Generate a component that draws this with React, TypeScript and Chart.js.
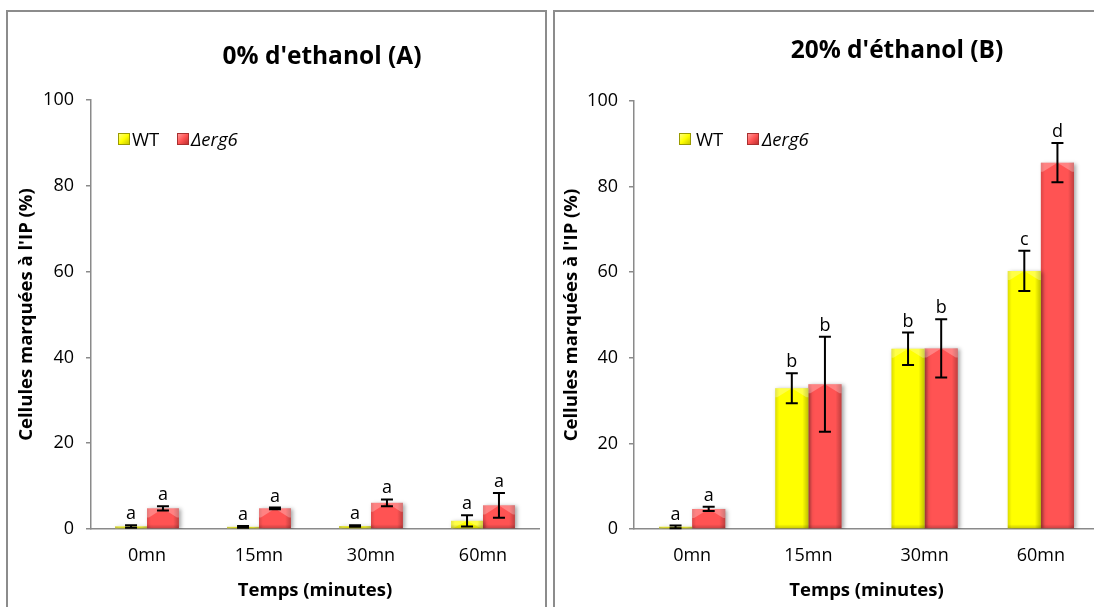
import React, { useEffect, useRef } from 'react';
import { Chart, registerables } from 'chart.js';

Chart.register(...registerables);

const categories = ['0mn', '15mn', '30mn', '60mn'];
const seriesNames = ['WT', 'Δerg6'];
const yTicks = [0, 20, 40, 60, 80, 100];

// Panel A : 0% d'ethanol
const wtA = [0.6, 0.5, 0.7, 1.9];
const wtErrA = [0.3, 0.2, 0.2, 1.3];
const ergA = [4.8, 4.8, 6.1, 5.5];
const ergErrA = [0.5, 0.2, 0.8, 2.9];
const wtLettersA = ['a', 'a', 'a', 'a'];
const ergLettersA = ['a', 'a', 'a', 'a'];

// Panel B : 20% d'éthanol
const wtB = [0.5, 32.9, 42.1, 60.3];
const wtErrB = [0.3, 3.5, 3.8, 4.7];
const ergB = [4.7, 33.8, 42.2, 85.6];
const ergErrB = [0.5, 11.1, 6.8, 4.6];
const wtLettersB = ['a', 'b', 'b', 'c'];
const ergLettersB = ['a', 'b', 'b', 'd'];

const titleA = "0% d'ethanol (A)";
const titleB = "20% d'éthanol (B)";
const xTitle = 'Temps (minutes)';
const yTitle = "Cellules marquées à l'IP (%)";

const FONT = '"Open Sans", Lato, sans-serif';
const YELLOW = '#FFFF00';
const RED = '#FF5353';
const AXIS = '#8a8a8a';

function makePlugins(errs: number[][], letters: string[][]) {
  return [
    {
      id: 'shadowBars',
      beforeDatasetsDraw(chart: any) {
        const ctx = chart.ctx;
        ctx.save();
        ctx.shadowColor = 'rgba(0,0,0,0.35)';
        ctx.shadowBlur = 4;
        ctx.shadowOffsetX = 2;
        ctx.shadowOffsetY = 1;
      },
      afterDatasetsDraw(chart: any) {
        const ctx = chart.ctx;
        ctx.restore();
        // bevel look
        chart.data.datasets.forEach((_: any, di: number) => {
          const meta = chart.getDatasetMeta(di);
          meta.data.forEach((bar: any) => {
            const { x, y, base, width } = bar.getProps(['x', 'y', 'base', 'width'], true);
            const l = x - width / 2;
            const r = x + width / 2;
            const t = Math.min(y, base);
            const b = Math.max(y, base);
            const h = b - t;
            if (h <= 0.5) return;
            ctx.save();
            const g = ctx.createLinearGradient(l, 0, r, 0);
            g.addColorStop(0, 'rgba(0,0,0,0.14)');
            g.addColorStop(0.12, 'rgba(0,0,0,0)');
            g.addColorStop(0.82, 'rgba(0,0,0,0)');
            g.addColorStop(1, 'rgba(0,0,0,0.25)');
            ctx.fillStyle = g;
            ctx.fillRect(l, t, width, h);
            const bv = Math.min(9, h);
            ctx.fillStyle = 'rgba(255,255,255,0.28)';
            ctx.beginPath();
            ctx.moveTo(l, t);
            ctx.lineTo(x, t);
            ctx.lineTo(l + 2, t + bv);
            ctx.lineTo(l, t + bv);
            ctx.closePath();
            ctx.fill();
            ctx.beginPath();
            ctx.moveTo(x, t);
            ctx.lineTo(r, t);
            ctx.lineTo(r, t + bv);
            ctx.lineTo(r - 2, t + bv);
            ctx.closePath();
            ctx.fill();
            const g2 = ctx.createLinearGradient(0, b - 4, 0, b);
            g2.addColorStop(0, 'rgba(0,0,0,0)');
            g2.addColorStop(1, 'rgba(0,0,0,0.2)');
            ctx.fillStyle = g2;
            ctx.fillRect(l, Math.max(t, b - 4), width, Math.min(4, h));
            ctx.restore();
          });
        });
        // error bars and letters
        const yScale = chart.scales.y;
        chart.data.datasets.forEach((ds: any, di: number) => {
          const meta = chart.getDatasetMeta(di);
          meta.data.forEach((bar: any, i: number) => {
            const v = ds.data[i];
            const e = errs[di][i];
            const x = bar.x;
            const yTop = yScale.getPixelForValue(v + e);
            const yBot = yScale.getPixelForValue(Math.max(0, v - e));
            ctx.save();
            ctx.strokeStyle = '#000';
            ctx.lineWidth = 2;
            ctx.beginPath();
            ctx.moveTo(x, yTop);
            ctx.lineTo(x, yBot);
            ctx.moveTo(x - 6, yTop);
            ctx.lineTo(x + 6, yTop);
            ctx.moveTo(x - 6, yBot);
            ctx.lineTo(x + 6, yBot);
            ctx.stroke();
            ctx.fillStyle = '#000';
            ctx.font = `18px ${FONT}`;
            ctx.textAlign = 'center';
            ctx.textBaseline = 'alphabetic';
            ctx.fillText(letters[di][i], x, yTop - 6);
            ctx.restore();
          });
        });
      },
    },
  ];
}

type PanelCfg = {
  left: number;
  width: number;
  borderLeft: number;
  borderWidth: number;
  padTop: number;
  padRight: number;
  yWidth: number;
  yTickPad: number;
  yTitlePad: number;
  wt: number[];
  erg: number[];
  errs: number[][];
  letters: string[][];
  title: string;
  titleCenterX: number;
  titleCenterY: number;
  legendX: number[];
};

function Panel({ cfg }: { cfg: PanelCfg }) {
  const ref = useRef<HTMLCanvasElement>(null);
  useEffect(() => {
    const chart = new Chart(ref.current as HTMLCanvasElement, {
      type: 'bar',
      data: {
        labels: categories,
        datasets: [
          { label: seriesNames[0], data: cfg.wt, backgroundColor: YELLOW, borderWidth: 0 },
          { label: seriesNames[1], data: cfg.erg, backgroundColor: RED, borderWidth: 0 },
        ],
      },
      options: {
        animation: false,
        responsive: false,
        maintainAspectRatio: false,
        events: [],
        datasets: { bar: { categoryPercentage: 0.57, barPercentage: 1 } },
        layout: { padding: { top: cfg.padTop, right: cfg.padRight, bottom: 0, left: 0 } },
        plugins: { legend: { display: false }, title: { display: false }, tooltip: { enabled: false } },
        scales: {
          x: {
            offset: true,
            grid: { display: false, drawTicks: false },
            border: { color: AXIS, width: 1.5 },
            ticks: { font: { family: FONT, size: 18 }, color: '#000', padding: 16 },
            title: {
              display: true,
              text: xTitle,
              color: '#000',
              font: { family: FONT, size: 18.5, weight: 'bold' },
              padding: { top: 0, bottom: 5 },
            },
            afterFit(s: any) {
              s.height = 78;
            },
          },
          y: {
            min: yTicks[0],
            max: yTicks[yTicks.length - 1],
            grid: { drawOnChartArea: false, drawTicks: true, tickLength: 5, color: AXIS, lineWidth: 1.5 },
            border: { color: AXIS, width: 1.5 },
            ticks: { stepSize: yTicks[1] - yTicks[0], font: { family: FONT, size: 18 }, color: '#000', padding: cfg.yTickPad },
            title: {
              display: true,
              text: yTitle,
              color: '#000',
              font: { family: FONT, size: 18.5, weight: 'bold' },
              padding: { top: cfg.yTitlePad, bottom: 0 },
            },
            afterFit(s: any) {
              s.width = cfg.yWidth;
            },
          },
        },
      } as any,
      plugins: makePlugins(cfg.errs, cfg.letters) as any,
    });
    return () => chart.destroy();
  }, []);

  const [lx0, tx0, lx1, tx1] = cfg.legendX;
  const box = (bg: string, bd: string, x: number) => (
    <div
      style={{
        position: 'absolute',
        left: x,
        top: 133,
        width: 12,
        height: 12,
        boxSizing: 'border-box',
        border: `1px solid ${bd}`,
        background: bg,
      }}
    />
  );
  const txt = (s: string, x: number, italic: boolean) => (
    <div
      style={{
        position: 'absolute',
        left: x,
        top: 127,
        height: 24,
        lineHeight: '24px',
        fontFamily: FONT,
        fontSize: 18.5,
        fontStyle: italic ? 'italic' : 'normal',
        color: '#000',
        whiteSpace: 'nowrap',
      }}
    >
      {s}
    </div>
  );

  return (
    <>
      <div
        style={{
          position: 'absolute',
          left: cfg.borderLeft,
          top: 10,
          width: cfg.borderWidth,
          height: 700,
          boxSizing: 'border-box',
          border: '2px solid #8c8c8c',
        }}
      />
      <canvas
        ref={ref}
        width={cfg.width}
        height={596}
        style={{ position: 'absolute', left: cfg.left, top: 11, width: cfg.width, height: 596, display: 'block' }}
      />
      <div
        style={{
          position: 'absolute',
          left: cfg.titleCenterX - 300,
          width: 600,
          top: cfg.titleCenterY - 17,
          height: 34,
          lineHeight: '34px',
          textAlign: 'center',
          fontFamily: FONT,
          fontWeight: 'bold',
          fontSize: 24.5,
          color: '#000',
          whiteSpace: 'nowrap',
        }}
      >
        {cfg.title}
      </div>
      {box('linear-gradient(135deg, #ffff80, #ffff00 50%, #c8c800)', '#9a9a00', lx0)}
      {txt(seriesNames[0], tx0, false)}
      {box('linear-gradient(135deg, #ff9a9a, #ff5353 50%, #c03030)', '#a83030', lx1)}
      {txt(seriesNames[1], tx1, true)}
    </>
  );
}

const panelA: PanelCfg = {
  left: 7,
  width: 539,
  borderLeft: 6,
  borderWidth: 541,
  padTop: 89,
  padRight: 7,
  yWidth: 84,
  yTickPad: 12,
  yTitlePad: 9,
  wt: wtA,
  erg: ergA,
  errs: [wtErrA, ergErrA],
  letters: [wtLettersA, ergLettersA],
  title: titleA,
  titleCenterX: 322,
  titleCenterY: 55,
  legendX: [118, 132, 177, 191],
};

const panelB: PanelCfg = {
  left: 554,
  width: 560,
  borderLeft: 553,
  borderWidth: 600,
  padTop: 90,
  padRight: 15,
  yWidth: 80,
  yTickPad: 11,
  yTitlePad: 7,
  wt: wtB,
  erg: ergB,
  errs: [wtErrB, ergErrB],
  letters: [wtLettersB, ergLettersB],
  title: titleB,
  titleCenterX: 897,
  titleCenterY: 49,
  legendX: [679, 696, 747, 762],
};

export default function App() {
  return (
    <div
      style={{
        position: 'fixed',
        left: 0,
        top: 0,
        width: 1094,
        height: 607,
        overflow: 'hidden',
        background: '#fff',
      }}
    >
      <Panel cfg={panelA} />
      <Panel cfg={panelB} />
    </div>
  );
}
